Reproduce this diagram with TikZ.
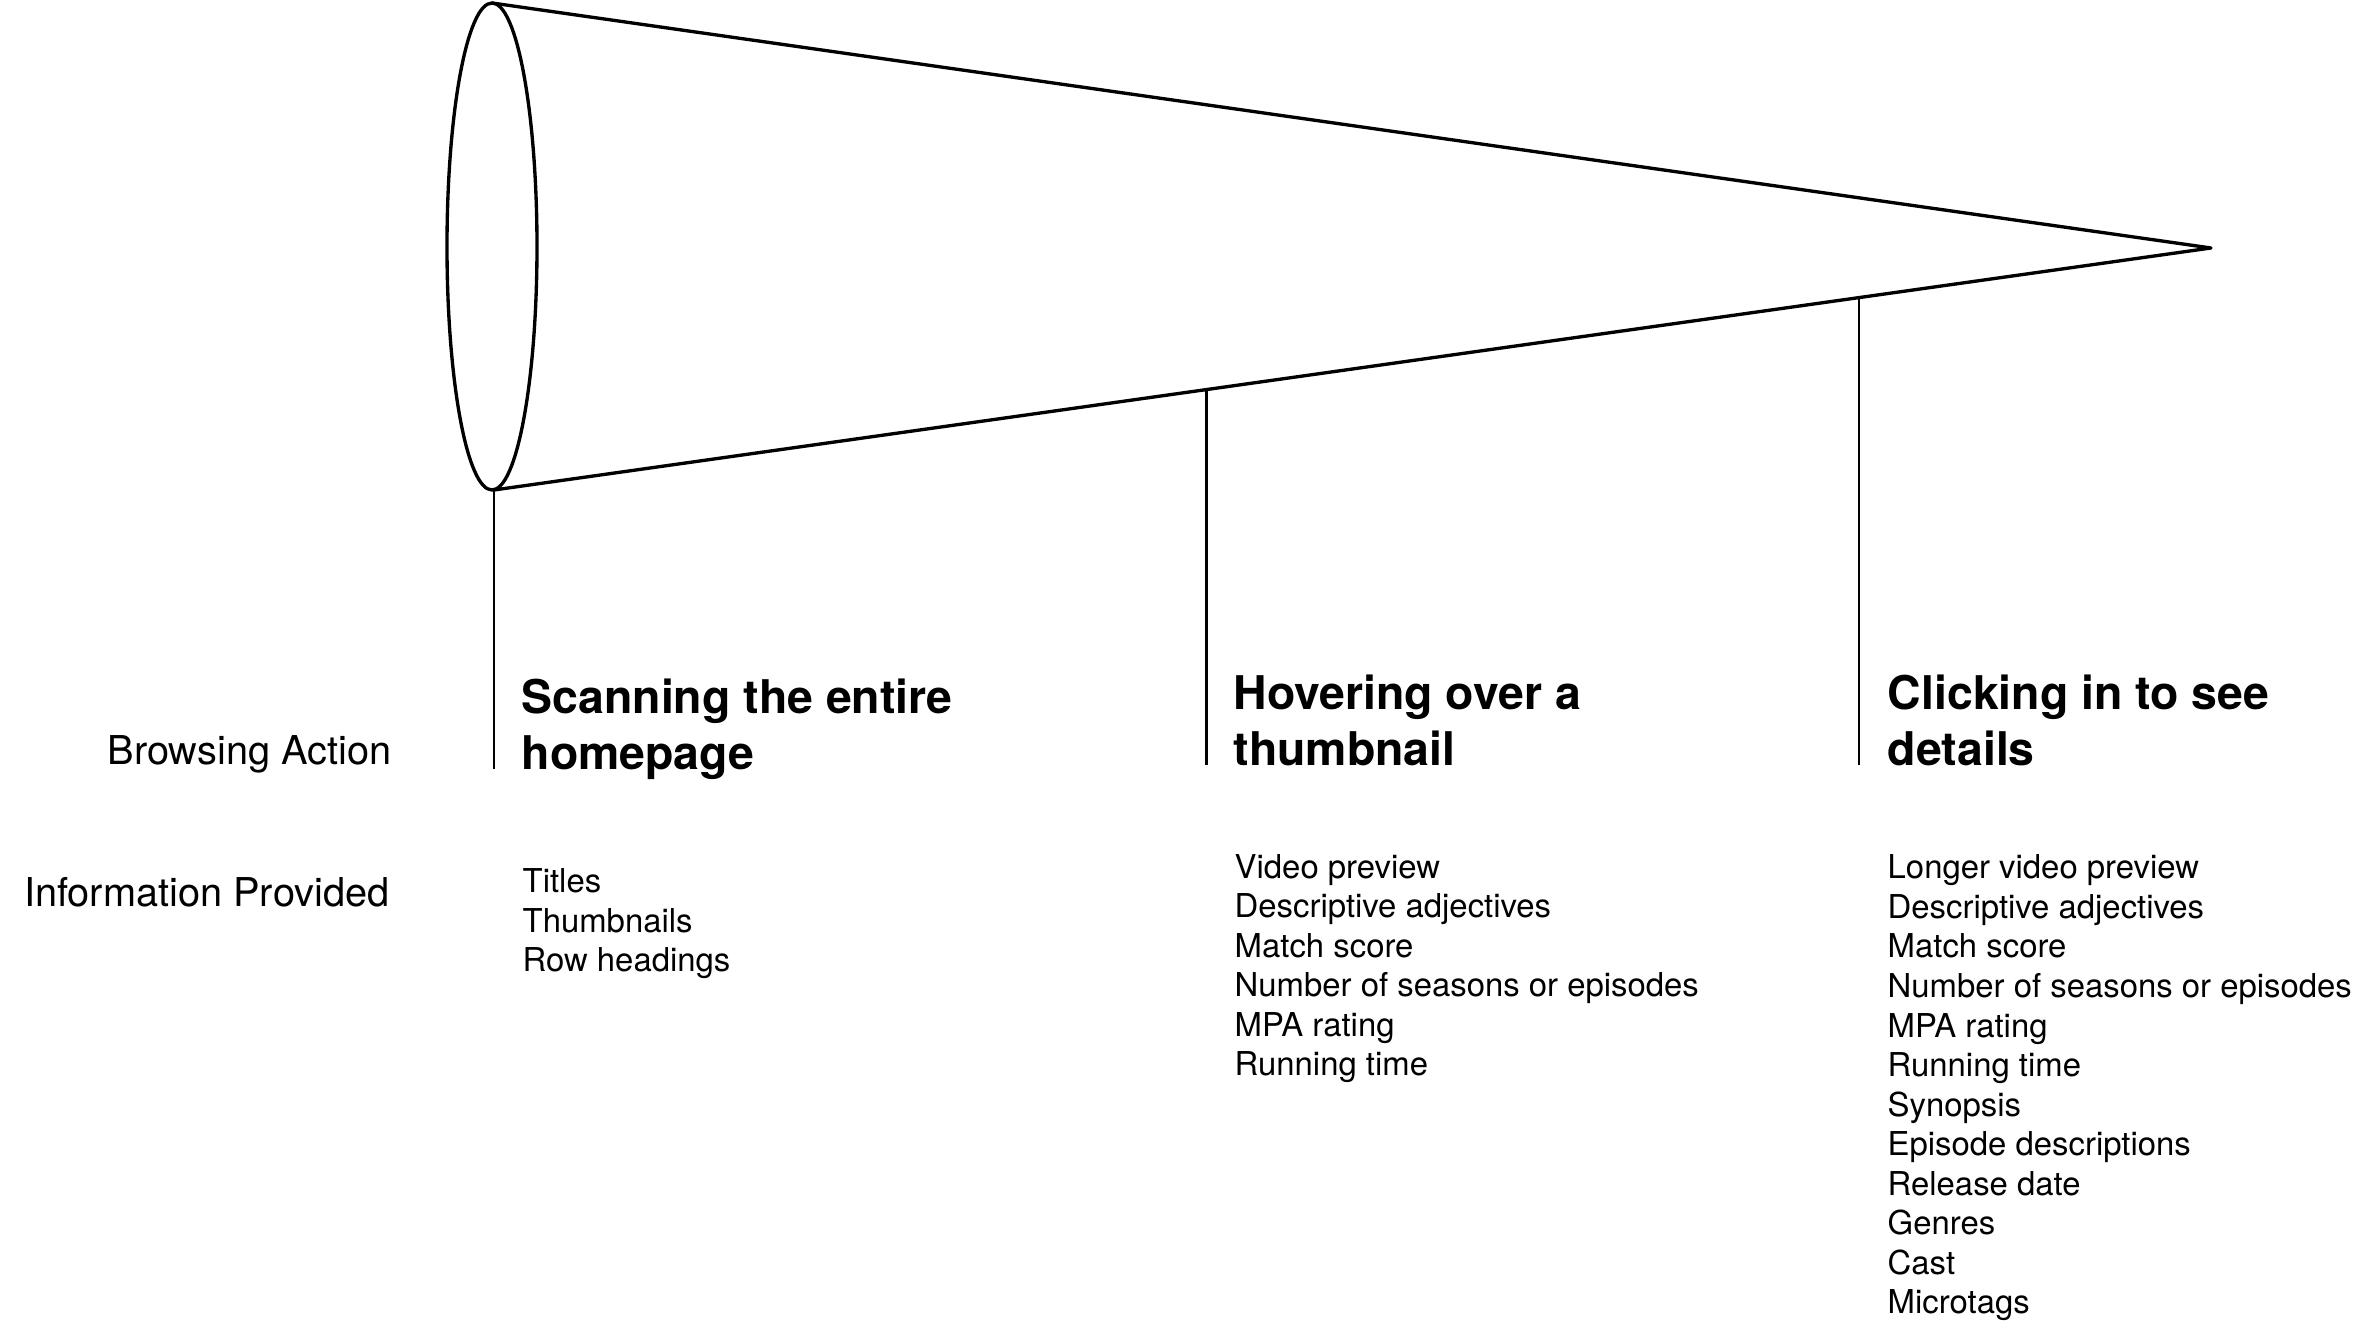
\documentclass[tikz,border=0pt]{standalone}
\usepackage{fontspec}
\setmainfont{TeX Gyre Heros}
\usetikzlibrary{calc}
\begin{document}
\begin{tikzpicture}[x=0.01cm, y=-0.01cm,
		funnel/.style = {draw, line width=0.95pt, line join=round},
		stem/.style = {draw, line width=0.8pt},
		rowlabel/.style = {anchor=base east, inner sep=0pt, font=\fontsize{11.3}{13}\selectfont},
		heading/.style = {anchor=base west, inner sep=0pt, align=left, font=\fontsize{13.2}{16}\selectfont\bfseries},
		infolist/.style = {anchor=base west, inner sep=0pt, align=left, font=\fontsize{9.35}{11.25}\selectfont}]
	\useasboundingbox (0,0) rectangle (2359,1331);

	% the funnel
	\coordinate (top) at (492,3);
	\coordinate (bot) at (494,490);
	\coordinate (tip) at (2211,248);
	\draw[funnel] (492,246.5) ellipse [x radius=45, y radius=243.5];
	\draw[funnel] (top) -- (tip) -- (bot);

	% stops on the lower edge
	\coordinate (s2) at ($(bot)!0.415!(tip)$);
	\coordinate (s3) at ($(bot)!0.795!(tip)$);
	\coordinate (f1) at (494,769);
	\draw[stem] (bot) -- (f1);
	\draw[stem] (s2) -- (s2 |- 0,765);
	\draw[stem] (s3) -- (s3 |- 0,765);

	% rows (multi-line nodes sit on their last line)
	\node[rowlabel] (browse) at (392,765) {Browsing Action};
	\node[rowlabel] (info) at (390,907) {Information Provided};

	\node[heading] (scan) at (521,770) {Scanning the entire\\homepage};
	\node[heading] (hover) at (1233,766) {Hovering over a\\thumbnail};
	\node[heading] (click) at (1887,766) {Clicking in to see\\details};

	\node[infolist] (scanlist) at (522,972) {Titles\\Thumbnails\\Row headings};
	\node[infolist] (hoverlist) at (1234,1076) {Video preview\\Descriptive adjectives\\Match score\\Number of seasons or episodes\\MPA rating\\Running time};
	\node[infolist] (clicklist) at (1887,1314) {Longer video preview\\Descriptive adjectives\\Match score\\Number of seasons or episodes\\MPA rating\\Running time\\Synopsis\\Episode descriptions\\Release date\\Genres\\Cast\\Microtags};
\end{tikzpicture}
\end{document}
